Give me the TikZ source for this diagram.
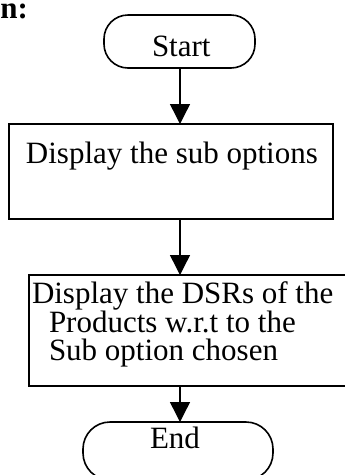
\documentclass[tikz,border=0pt]{standalone}
\usepackage{fontspec}
\setmainfont{Liberation Serif}
\usetikzlibrary{arrows.meta}
\begin{document}
\begin{tikzpicture}[x=1pt,y=-1pt,
  every node/.style={inner sep=0pt,outer sep=0pt},
  box/.style={draw,line width=1.6pt,rectangle},
  term/.style={draw,line width=1.6pt,rectangle,rounded corners=24pt},
  lbl/.style={anchor=base west,font=\fontsize{31}{31}\selectfont},
  flow/.style={line width=1.4pt,-{Triangle[length=20pt,width=20pt]}}]
\useasboundingbox (0,0) rectangle (345,475);
\begin{scope}
\clip (0,0) rectangle (345,475);
% heading fragment
\node[lbl,font=\fontsize{31}{31}\selectfont\bfseries,text height=15pt,text depth=0pt] (hd) at (0.5,18) {n:};
% shapes
\node[term,minimum width=151pt,minimum height=53pt] (start) at (179.5,41.5) {};
\node[box,minimum width=324pt,minimum height=95pt] (disp) at (171,171.5) {};
\node[box,minimum width=331pt,minimum height=111pt] (dsr) at (194.5,330.5) {};
\node[term,rounded corners=27pt,minimum width=190pt,minimum height=58pt] (stop) at (178,451) {};
% texts
\node[lbl] (tstart) at (152,56) {Start};
\node[lbl] (tdisp) at (26,163) {Display the sub options};
\node[lbl] (tdsra) at (32,303) {Display the DSRs of the};
\node[lbl] (tdsrb) at (49,332) {Products w.r.t to the};
\node[lbl] (tdsrc) at (49,360) {Sub option chosen};
\node[lbl] (tstop) at (150,448) {End};
% connectors
\coordinate (axis) at (180,0);
\draw[flow] (start.south -| axis) -- (disp.north -| axis);
\draw[flow] (disp.south -| axis) -- (dsr.north -| axis);
\draw[flow] (dsr.south -| axis) -- (stop.north -| axis);
\end{scope}
\end{tikzpicture}
\end{document}
